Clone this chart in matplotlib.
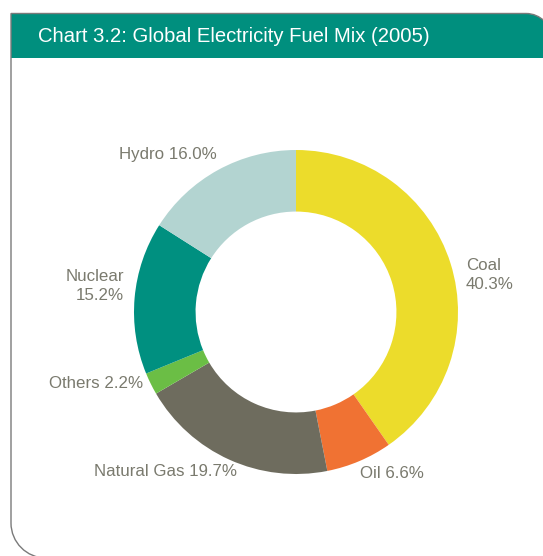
import matplotlib
matplotlib.use("Agg")
import matplotlib.pyplot as plt
from matplotlib.path import Path
from matplotlib.patches import PathPatch
import numpy as np

categories = ["Coal", "Oil", "Natural Gas", "Others", "Nuclear", "Hydro"]
values = [40.3, 6.6, 19.7, 2.2, 15.2, 16.0]
colors = ["#ECDC2B", "#F07233", "#6E6C5E", "#6BBE45", "#009080", "#B3D4D1"]
title = "Chart 3.2: Global Electricity Fuel Mix (2005)"

W, H = 543, 556
plt.rcParams['font.family'] = ['Liberation Sans', 'DejaVu Sans']
plt.rcParams['path.simplify'] = False
fig = plt.figure(figsize=(W / 100, H / 100), dpi=100)

bg = fig.add_axes([0, 0, 1, 1])
bg.set_xlim(0, W)
bg.set_ylim(H, 0)
bg.axis("off")

k = 0.5523
# header fill
hx0, hy0, hx1, hy1, hr = 11, 13.5, 552, 58, 26
hverts = [(hx0, hy1), (hx0, hy0), (hx1 - hr, hy0),
          (hx1 - hr + k * hr, hy0), (hx1, hy0 + hr - k * hr), (hx1, hy0 + hr),
          (hx1, hy1), (hx0, hy1)]
hcodes = [Path.MOVETO, Path.LINETO, Path.LINETO,
          Path.CURVE4, Path.CURVE4, Path.CURVE4,
          Path.LINETO, Path.CLOSEPOLY]
bg.add_patch(PathPatch(Path(hverts, hcodes), facecolor="#008F7E", edgecolor="none"))

# outer border (open path)
x0, y0, x1, y1, rt, rb = 11, 13.5, 552, 558, 26, 35
bverts = [(x0 + rb, y1),
          (x0 + rb - k * rb, y1), (x0, y1 - rb + k * rb), (x0, y1 - rb),
          (x0, y0), (x1 - rt, y0),
          (x1 - rt + k * rt, y0), (x1, y0 + rt - k * rt), (x1, y0 + rt),
          (x1, y1)]
bcodes = [Path.MOVETO,
          Path.CURVE4, Path.CURVE4, Path.CURVE4,
          Path.LINETO, Path.LINETO,
          Path.CURVE4, Path.CURVE4, Path.CURVE4,
          Path.LINETO]
bg.add_patch(PathPatch(Path(bverts, bcodes), facecolor="none", fill=False,
                       edgecolor="#7A7A7A", linewidth=1.0, clip_on=False))

bg.text(38, 37, title, color="white", fontsize=14.6, va="center", ha="left")

# donut
cx, cy, R = 296, 312, 162
pax = fig.add_axes([(cx - R) / W, (H - cy - R) / H, 2 * R / W, 2 * R / H])
pax.pie(values, colors=colors, startangle=90, counterclock=False,
        wedgeprops=dict(width=0.38, edgecolor="none", linewidth=0))
pax.set_xlim(-1, 1)
pax.set_ylim(-1, 1)
pax.set_aspect("equal")
pax.axis("off")

tc = "#7A7A6E"
fs = 12.2
bg.text(168, 155, f"{categories[5]} {values[5]:.1f}%", color=tc, fontsize=fs, ha="center", va="center")
bg.text(124, 286, f"{categories[4]}\n{values[4]:.1f}%", color=tc, fontsize=fs, ha="right", va="center", linespacing=1.4)
bg.text(143, 383, f"{categories[3]} {values[3]:.1f}%", color=tc, fontsize=fs, ha="right", va="center")
bg.text(165, 471, f"{categories[2]} {values[2]:.1f}%", color=tc, fontsize=fs, ha="center", va="center")
bg.text(392, 473, f"{categories[1]} {values[1]:.1f}%", color=tc, fontsize=fs, ha="center", va="center")
bg.text(466, 275, f"{categories[0]}\n{values[0]:.1f}%", color=tc, fontsize=fs, ha="left", va="center", linespacing=1.4)

fig.savefig("out.png", dpi=100, facecolor="white")
